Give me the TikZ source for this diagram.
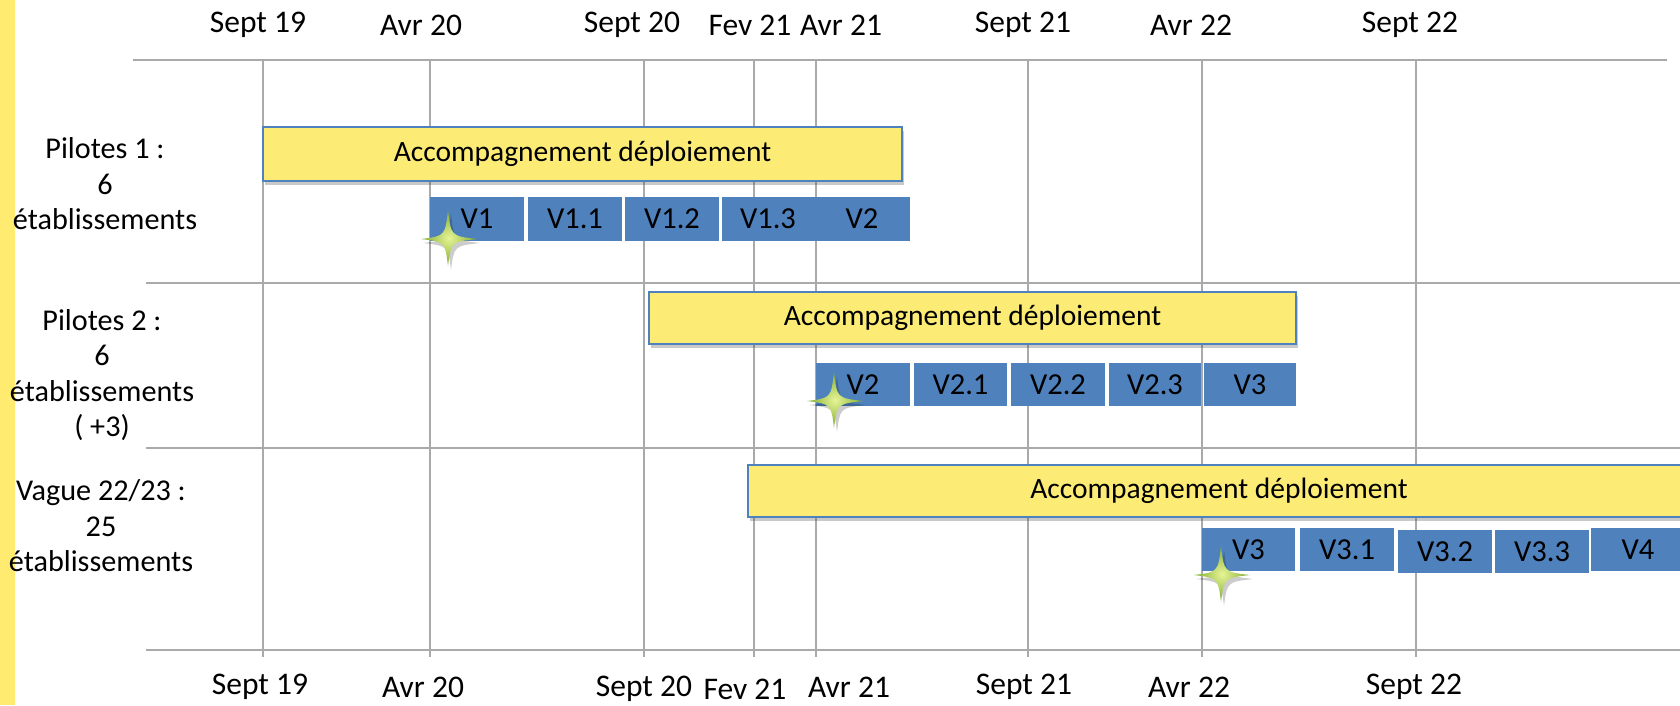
\documentclass[tikz,border=0pt]{standalone}
\usepackage{fontspec}
\setmainfont{Carlito}
\usetikzlibrary{shadows}
\definecolor{gridc}{RGB}{170,170,170}
\definecolor{ybox}{RGB}{252,236,117}
\definecolor{bbox}{RGB}{79,129,189}
\definecolor{stripc}{RGB}{255,235,112}
\definecolor{spkin}{RGB}{230,244,150}
\definecolor{spkout}{RGB}{128,172,48}
\newcommand{\mkvbox}[6]{\node[vbox, minimum width={(#3-#2)*1pt}, minimum height={(#5-#4)*1pt}] (#1) at ({(#2+#3)/2},{(#4+#5)/2}) {#6};}
\newcommand{\mkacc}[5]{\node[acc, minimum width={(#3-#2)*1pt}, minimum height={(#5-#4)*1pt}] (#1) at ({(#2+#3)/2},{(#4+#5)/2}) {Accompagnement déploiement};}
\tikzset{
  gridline/.style={draw=gridc, line width=2pt},
  vbox/.style={fill=bbox, draw=none, inner sep=0pt, text=black, font=\fontsize{30.5}{36}\selectfont},
  acc/.style={fill=ybox, draw=bbox, line width=1.5pt, inner sep=0pt,
    drop shadow={shadow xshift=2pt, shadow yshift=-4pt, opacity=0.3, fill=black!70}},
  datelbl/.style={inner sep=0pt, anchor=center, font=\fontsize{31.5}{36}\selectfont},
  rowlbl/.style={align=center, inner sep=0pt, anchor=center, font=\fontsize{30.2}{35.5}\selectfont},
  sparkle/.pic={
    \fill[black, opacity=0.2] (3,-25) .. controls (6,1) .. (32,4) .. controls (6,7) .. (3,31) .. controls (0,7) .. (-25,4) .. controls (0,1) .. (3,-25);
    \shade[inner color=spkin, outer color=spkout] (0,-29) .. controls (3,-3) .. (29,0) .. controls (3,3) .. (0,27) .. controls (-3,3) .. (-27,0) .. controls (-3,-3) .. (0,-29);
  }
}
\begin{document}
\begin{tikzpicture}[x=1pt, y=-1pt, font=\fontsize{29.5}{35.5}\selectfont]
\useasboundingbox (0,0) rectangle (1680,705);
\fill[stripc] (0,0) rectangle (15,705);
% grid
\foreach \x in {262.5,429.6,644,754,816.4,1027.5,1201.5,1416.4}
  \draw[gridline] (\x,60) -- (\x,657);
\draw[gridline] (133,60) -- (1667,60);
\draw[gridline] (146,283) -- (1680,283);
\draw[gridline] (146,448) -- (1680,448);
\draw[gridline] (146,650) -- (1680,650);
% top dates
\node[datelbl] (t1) at (258,25) {Sept 19};
\node[datelbl] (t2) at (421,25) {Avr 20};
\node[datelbl] (t3) at (632,25) {Sept 20};
\node[datelbl] (t4) at (750,25) {Fev 21};
\node[datelbl] (t5) at (841,25) {Avr 21};
\node[datelbl] (t6) at (1023,25) {Sept 21};
\node[datelbl] (t7) at (1191,25) {Avr 22};
\node[datelbl] (t8) at (1410,25) {Sept 22};
% bottom dates
\node[datelbl] (b1) at (260,687) {Sept 19};
\node[datelbl] (b2) at (423,687) {Avr 20};
\node[datelbl] (b3) at (644,689) {Sept 20};
\node[datelbl] (b4) at (745,689) {Fev 21};
\node[datelbl] (b5) at (849,687) {Avr 21};
\node[datelbl] (b6) at (1024,687) {Sept 21};
\node[datelbl] (b7) at (1189,687) {Avr 22};
\node[datelbl] (b8) at (1414,687) {Sept 22};
% row labels
\node[rowlbl] (l1) at (105,184) {Pilotes 1 :\\6\\établissements};
\node[rowlbl] (l2) at (102,375) {Pilotes 2 :\\6\\établissements\\( +3)};
\node[rowlbl] (l3) at (101,526) {Vague 22/23 :\\25\\établissements};
% accompagnement bars
\mkacc{a1}{263}{902}{127}{181}
\mkacc{a2}{649}{1296}{292}{344}
\mkacc{a3}{748}{1690}{465}{517}
% version boxes row 1
\mkvbox{r1a}{430}{524}{197}{241}{V1}
\mkvbox{r1b}{528}{622}{197}{241}{V1.1}
\mkvbox{r1c}{625}{719}{197}{241}{V1.2}
\mkvbox{r1d}{722}{814}{197}{241}{V1.3}
\mkvbox{r1e}{814}{910}{197}{241}{V2}
% row 2
\mkvbox{r2a}{816}{910}{363}{406}{V2}
\mkvbox{r2b}{914}{1007}{363}{406}{V2.1}
\mkvbox{r2c}{1011}{1105}{363}{406}{V2.2}
\mkvbox{r2d}{1109}{1201}{363}{406}{V2.3}
\mkvbox{r2e}{1204}{1296}{363}{406}{V3}
% row 3
\mkvbox{r3a}{1202}{1295}{528}{571}{V3}
\mkvbox{r3b}{1300}{1394}{528}{571}{V3.1}
\mkvbox{r3c}{1398}{1492}{530}{573}{V3.2}
\mkvbox{r3d}{1495}{1589}{530}{573}{V3.3}
\mkvbox{r3e}{1591}{1685}{528}{571}{V4}
% sparkles
\pic (s1) at (448,239) {sparkle};
\pic (s2) at (834,401) {sparkle};
\pic (s3) at (1221,575) {sparkle};
\end{tikzpicture}
\end{document}
